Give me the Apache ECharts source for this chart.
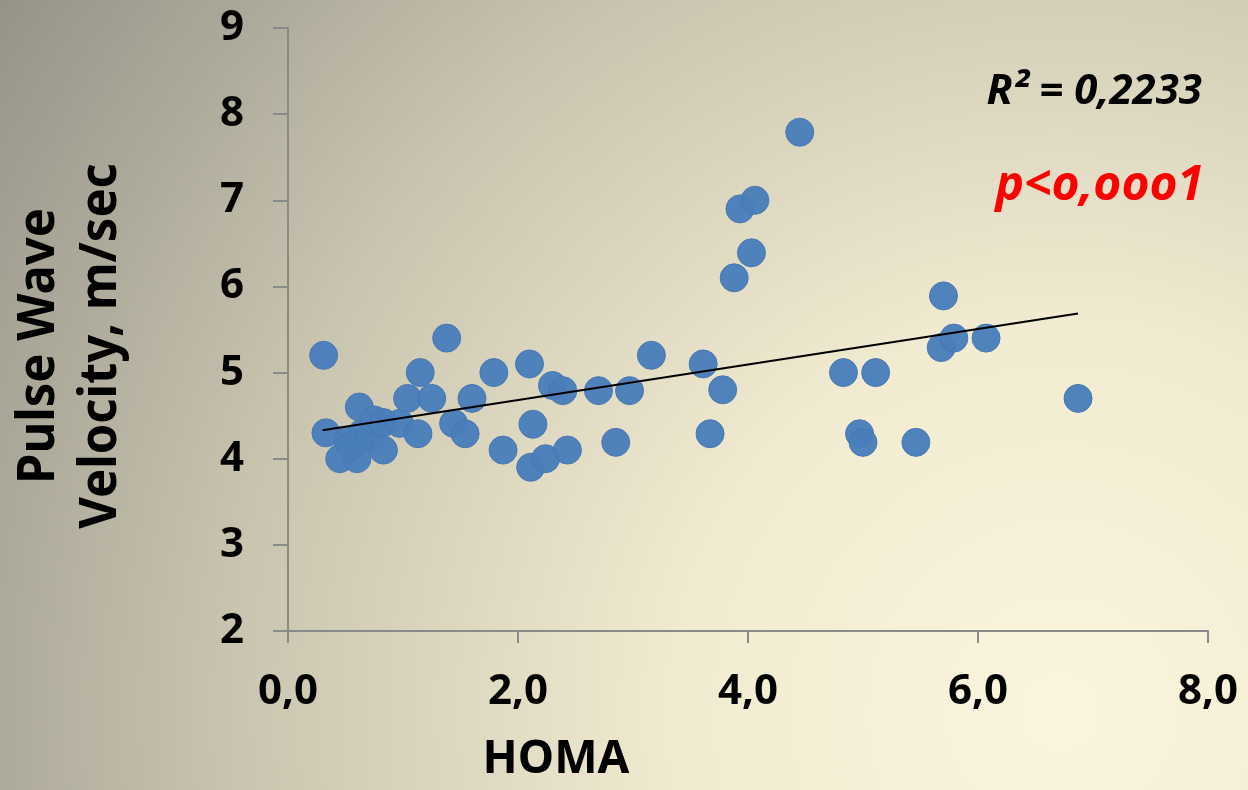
<!DOCTYPE html>
<html>
<head>
<meta charset="utf-8">
<title>HOMA vs Pulse Wave Velocity</title>
<script src="https://cdn.jsdelivr.net/npm/echarts@6/dist/echarts.min.js"></script>
<style>
  html, body { margin: 0; padding: 0; }
  #chart { width: 1248px; height: 790px; }
</style>
</head>
<body>
<div id="chart"></div>
<script>
// HOMA index (x) and pulse wave velocity in m/sec (y)
const homa = [
  0.31, 0.33, 0.45, 0.60, 0.52, 0.64, 0.62, 0.55, 0.72, 0.75,
  0.83, 0.83, 0.97, 1.13, 1.04, 1.25, 1.15, 1.38, 1.44, 1.54,
  1.60, 1.79, 1.87, 2.10, 2.13, 2.11, 2.24, 2.30, 2.39, 2.43,
  2.70, 2.85, 2.97, 3.16, 3.61, 3.67, 3.78, 3.88, 3.93, 4.03,
  4.06, 4.45, 4.83, 4.97, 5.00, 5.11, 5.46, 5.68, 5.70, 5.79,
  6.07, 6.87
];
const pwv = [
  5.20, 4.30, 4.00, 4.00, 4.21, 4.29, 4.60, 4.15, 4.25, 4.45,
  4.10, 4.42, 4.41, 4.29, 4.70, 4.70, 5.00, 5.40, 4.41, 4.29,
  4.70, 5.00, 4.10, 5.10, 4.40, 3.90, 4.00, 4.85, 4.79, 4.10,
  4.79, 4.19, 4.79, 5.20, 5.10, 4.29, 4.80, 6.10, 6.90, 6.39,
  7.00, 7.79, 5.00, 4.29, 4.19, 5.00, 4.19, 5.29, 5.89, 5.40,
  5.40, 4.70
];

// linear trend line end points
const trendX = [0.30, 6.87];
const trendY = [4.33, 5.685];

const xTickLabels = ["0,0", "2,0", "4,0", "6,0", "8,0"];
const yTickLabels = ["2", "3", "4", "5", "6", "7", "8", "9"];

const rSquaredText = "R² = 0,2233";
const pValueText = "p<o,ooo1";

const chart = echarts.init(document.getElementById("chart"));

const labelFont = "'Noto Sans', 'DejaVu Sans', sans-serif";
const axisColor = "#8a8a8a";

const option = {
  animation: false,
  backgroundColor: {
    type: "radial",
    x: 0.85,
    y: 0.9,
    r: 1.62,
    colorStops: [
      { offset: 0, color: "#fbf5de" },
      { offset: 0.3, color: "#f1ebd1" },
      { offset: 0.65, color: "#c9c4af" },
      { offset: 1, color: "#959288" },
    ],
  },
  grid: { left: 288, right: 40, top: 28, bottom: 159 },
  xAxis: {
    type: "value",
    min: 0,
    max: 8,
    interval: 2,
    axisLine: { onZero: false, lineStyle: { color: axisColor, width: 2 } },
    axisTick: { show: true, length: 12, lineStyle: { color: axisColor, width: 2 } },
    splitLine: { show: false },
    axisLabel: {
      margin: 40,
      color: "#000",
      fontFamily: labelFont,
      fontWeight: "bold",
      fontSize: 42,
      formatter: (v) => xTickLabels[Math.round(v / 2)],
    },
  },
  yAxis: {
    type: "value",
    min: 2,
    max: 9,
    interval: 1,
    axisLine: { show: true, onZero: false, lineStyle: { color: axisColor, width: 2 } },
    axisTick: { show: true, length: 15, lineStyle: { color: axisColor, width: 2 } },
    splitLine: { show: false },
    axisLabel: {
      margin: 44,
      color: "#000",
      fontFamily: labelFont,
      fontWeight: "bold",
      fontSize: 42,
      formatter: (v) => yTickLabels[Math.round(v - 2)],
    },
  },
  series: [
    {
      type: "scatter",
      data: homa.map((x, i) => [x, pwv[i]]),
      symbolSize: 28,
      itemStyle: {
        color: "#4a7ebb",
        borderColor: "#4677b2",
        borderWidth: 1,
        opacity: 0.97,
      },
      z: 2,
    },
    {
      type: "line",
      data: trendX.map((x, i) => [x, trendY[i]]),
      symbol: "none",
      lineStyle: { color: "#000", width: 2 },
      z: 3,
    },
  ],
  graphic: [
    {
      type: "text",
      x: 70,
      y: 346,
      rotation: Math.PI / 2,
      scaleX: 0.94,
      style: {
        text: "Pulse Wave\nVelocity, m/sec",
        fill: "#000",
        font: "bold 52px " + labelFont,
        lineHeight: 62,
        align: "center",
        verticalAlign: "middle",
      },
    },
    {
      type: "text",
      x: 556,
      y: 760,
      style: {
        text: "HOMA",
        fill: "#000",
        font: "bold 46px " + labelFont,
        align: "center",
        verticalAlign: "middle",
      },
    },
    {
      type: "text",
      x: 1202,
      y: 92,
      style: {
        text: rSquaredText,
        fill: "#000",
        font: "italic bold 42px " + labelFont,
        align: "right",
        verticalAlign: "middle",
      },
    },
    {
      type: "text",
      x: 1204,
      y: 186,
      style: {
        text: pValueText,
        fill: "#ff0000",
        font: "italic bold 48px " + labelFont,
        align: "right",
        verticalAlign: "middle",
      },
    },
  ],
};

chart.setOption(option);
</script>
</body>
</html>
